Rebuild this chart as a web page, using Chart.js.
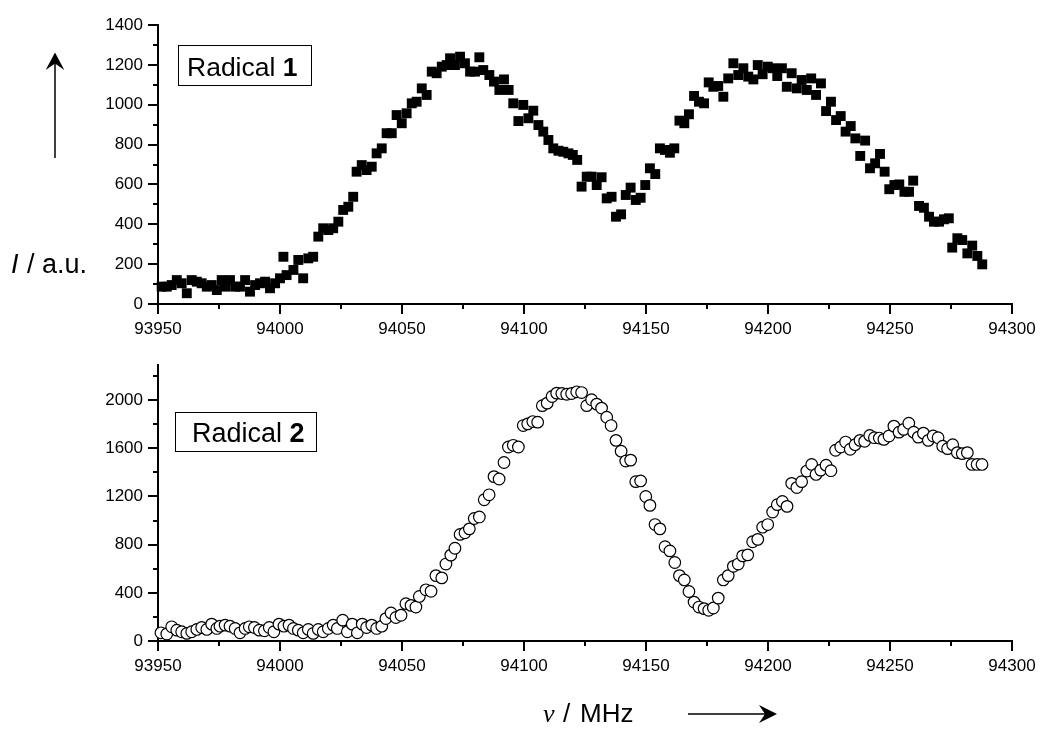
<!DOCTYPE html>
<html><head><meta charset="utf-8">
<script src="https://cdn.jsdelivr.net/npm/chart.js@4.4.0/dist/chart.umd.min.js"></script>
<style>
html,body{margin:0;padding:0;background:#fff;}
#wrap{position:relative;width:1049px;height:730px;overflow:hidden;}
canvas{position:absolute;left:0;}
#c1{top:0;}
#c2{top:350px;}
#ov{position:absolute;left:0;top:0;pointer-events:none;}
</style>
</head><body>
<div id="wrap">
<canvas id="c1" width="1049" height="350"></canvas>
<canvas id="c2" width="1049" height="380"></canvas>
<svg id="ov" width="1049" height="730" xmlns="http://www.w3.org/2000/svg" font-family="Liberation Sans, Arial, sans-serif">
  <rect x="178.5" y="45.5" width="133" height="40" fill="#fff" stroke="#000" stroke-width="1"/>
  <text x="187" y="76" font-size="26.5" fill="#000">Radical <tspan font-weight="bold">1</tspan></text>
  <rect x="175.5" y="412.5" width="141" height="39" fill="#fff" stroke="#000" stroke-width="1"/>
  <text x="192" y="442" font-size="27" fill="#000">Radical <tspan font-weight="bold">2</tspan></text>
  <text y="273" font-size="27" fill="#000"><tspan x="11" font-style="italic">I</tspan><tspan x="27">/</tspan><tspan x="42">a.u.</tspan></text>
  <line x1="55" y1="158" x2="55" y2="62" stroke="#000" stroke-width="1.5"/>
  <polygon points="55,52.5 45.7,70 55,63.5 64.3,70" fill="#000"/>
  <text y="722" font-size="26" fill="#000"><tspan x="543" font-family="Liberation Serif, Times New Roman, serif" font-style="italic">ν</tspan><tspan x="563">/</tspan><tspan x="580">MHz</tspan></text>
  <line x1="688" y1="714" x2="768" y2="714" stroke="#000" stroke-width="1.5"/>
  <polygon points="777,714 759,705 765,714 759,723" fill="#000"/>
</svg>
</div>
<script>
// ---- data ----
const freq1 = [
93951.5,93953.6,93955.6,93957.7,93959.7,93961.8,93963.8,93965.9,93967.9,93970.0,
93972.0,93974.1,93976.1,93977.5,93979.5,93981.6,93983.6,93985.7,93987.7,93989.8,
93991.8,93993.9,93995.9,93998.0,94000.0,94001.4,94002.7,94005.5,94007.5,94009.5,
94011.6,94013.6,94015.7,94017.7,94019.8,94021.8,94023.9,94025.9,94028.0,94030.0,
94031.4,94033.5,94035.5,94037.6,94039.6,94041.7,94043.7,94045.8,94047.8,94049.9,
94051.9,94054.0,94056.0,94058.1,94060.1,94062.2,94064.2,94066.3,94068.3,94069.7,
94071.7,94073.8,94075.8,94077.9,94079.9,94081.7,94083.3,94085.8,94087.7,94089.9,
94091.8,94093.7,94095.6,94097.7,94099.7,94101.8,94103.8,94105.9,94107.9,94110.0,
94112.0,94114.1,94116.1,94118.2,94120.0,94121.8,94123.6,94125.7,94127.7,94129.8,
94131.8,94133.9,94135.9,94137.7,94139.8,94141.7,94143.7,94145.8,94147.8,94149.7,
94151.6,94153.8,94155.7,94157.8,94159.8,94161.6,94163.7,94165.7,94167.6,94169.7,
94171.7,94173.8,94175.7,94177.6,94179.6,94181.7,94183.7,94185.8,94187.8,94189.9,
94191.9,94194.0,94195.8,94197.8,94199.9,94201.9,94203.8,94205.7,94207.7,94209.7,
94211.8,94213.8,94215.9,94217.7,94219.7,94221.7,94223.8,94225.8,94227.9,94229.8,
94231.8,94233.9,94235.8,94237.8,94239.8,94241.8,94243.9,94245.9,94247.8,94249.7,
94251.8,94253.8,94255.9,94257.8,94259.5,94261.9,94263.9,94266.0,94268.0,94270.1,
94272.1,94274.1,94275.5,94277.6,94279.6,94281.7,94283.7,94285.8,94287.8];
const int1 = [
87,87,95,120,104,54,120,112,104,87,
95,70,120,87,120,87,87,120,62,95,
104,112,79,104,129,237,145,171,221,129,
229,237,338,380,371,380,413,472,488,538,
664,697,672,689,756,781,857,857,948,907,
957,1007,1015,1082,1049,1166,1158,1191,1199,1233,
1199,1241,1208,1166,1166,1238,1174,1149,1116,1074,
1127,1074,1007,918,999,932,970,898,865,823,
781,769,764,756,748,723,589,639,639,597,
636,530,538,438,450,547,584,522,533,597,
681,652,781,773,759,781,920,907,952,1044,
1015,1007,1112,1090,1094,1040,1132,1208,1149,1183,
1141,1127,1199,1153,1191,1183,1144,1183,1090,1158,
1082,1124,1074,1132,1049,1107,968,1015,923,943,
865,893,831,743,820,681,706,753,664,576,
597,600,563,563,619,492,483,438,413,413,
425,430,283,330,321,254,293,241,199];
const freq2 = [
93951.2,93953.6,93955.6,93957.7,93959.7,93961.8,93963.8,93965.9,93967.9,93970.0,
93972.0,93974.1,93975.4,93977.5,93979.5,93981.6,93983.6,93985.7,93987.4,93989.5,
93991.5,93993.6,93995.6,93997.5,93999.6,94001.6,94003.7,94005.5,94007.5,94009.5,
94011.6,94013.6,94015.7,94017.7,94019.8,94021.8,94023.5,94025.7,94027.6,94029.6,
94031.7,94033.7,94035.5,94037.6,94039.6,94041.7,94043.4,94045.5,94047.5,94049.6,
94051.6,94053.7,94055.7,94057.1,94059.8,94061.9,94063.9,94066.3,94068.0,94070.0,
94071.7,94073.8,94075.8,94077.6,94079.6,94081.7,94083.7,94085.7,94087.7,94089.8,
94091.8,94093.6,94095.6,94097.7,94099.7,94101.5,94103.6,94105.6,94107.5,94109.5,
94111.5,94113.4,94115.5,94117.5,94119.5,94121.6,94123.6,94125.7,94127.7,94129.8,
94131.8,94133.9,94135.7,94137.7,94139.8,94141.7,94143.7,94145.8,94147.8,94149.9,
94151.6,94153.7,94155.7,94157.8,94159.8,94161.8,94163.7,94165.7,94167.6,94169.7,
94171.7,94173.8,94175.7,94177.6,94179.6,94181.7,94183.7,94185.8,94187.8,94189.6,
94191.7,94193.7,94195.8,94197.8,94199.9,94201.9,94203.8,94205.9,94207.8,94209.7,
94211.8,94213.8,94215.9,94217.9,94219.7,94221.6,94223.8,94225.8,94227.7,94229.8,
94231.8,94233.7,94235.7,94237.7,94239.6,94241.7,94243.6,94245.6,94247.5,94249.6,
94251.6,94253.7,94255.6,94257.7,94259.7,94261.6,94263.7,94265.7,94267.7,94269.7,
94271.6,94273.6,94275.7,94277.6,94279.6,94281.7,94283.6,94285.7,94287.7];
const int2 = [
68,58,118,90,77,63,77,96,112,96,
140,104,123,132,123,104,68,104,118,112,
90,85,112,77,140,123,132,104,90,68,
96,63,96,77,104,132,104,173,77,140,
68,140,112,132,104,123,186,233,195,214,
310,296,282,370,425,413,543,524,639,713,
770,885,898,931,1017,1030,1173,1214,1365,1345,
1482,1611,1625,1611,1789,1803,1822,1817,1954,1975,
2030,2058,2055,2049,2055,2069,2063,1954,2003,1967,
1934,1858,1789,1666,1576,1494,1502,1323,1329,1200,
1126,967,931,783,748,652,543,507,411,323,
282,269,255,274,356,507,543,620,639,707,
715,824,844,945,967,1071,1132,1159,1118,1309,
1274,1323,1411,1466,1383,1419,1460,1414,1584,1611,
1652,1592,1630,1666,1658,1707,1688,1685,1674,1702,
1784,1734,1757,1808,1734,1693,1726,1666,1702,1688,
1617,1597,1630,1564,1556,1564,1466,1466,1466];
const xTickLabels = [93950,94000,94050,94100,94150,94200,94250,94300];
const yTickLabels1 = [0,200,400,600,800,1000,1200,1400];
const yTickLabels2 = [0,400,800,1200,1600,2000];

// ---- helpers ----
const tickFont = {family:'Liberation Sans, Arial, sans-serif', size:17};
const minorTicks = {
  id:'minorTicks',
  afterDraw(chart){
    const ctx = chart.ctx, xs = chart.scales.x, ys = chart.scales.y;
    ctx.save(); ctx.strokeStyle = '#000'; ctx.lineWidth = 2;
    const xv = xs.ticks.map(t=>t.value);
    for (let i=0;i<xv.length-1;i++){
      const p = Math.round(xs.getPixelForValue((xv[i]+xv[i+1])/2));
      ctx.beginPath(); ctx.moveTo(p, xs.top); ctx.lineTo(p, xs.top+5); ctx.stroke();
    }
    const yv = ys.ticks.map(t=>t.value);
    const step = yv[1]-yv[0];
    const mids = [];
    for (let i=0;i<yv.length-1;i++) mids.push((yv[i]+yv[i+1])/2);
    const last = yv[yv.length-1] + step/2;
    if (last <= ys.max) mids.push(last);
    mids.forEach(v=>{
      const p = Math.round(ys.getPixelForValue(v));
      ctx.beginPath(); ctx.moveTo(ys.right, p); ctx.lineTo(ys.right-5, p); ctx.stroke();
    });
    ctx.restore();
  }
};
function axis(tickVals, min, max, isX, fitSize){
  return {
    type:'linear', min, max,
    afterBuildTicks: s => { s.ticks = tickVals.map(v=>({value:v})); },
    afterFit: s => { if (isX) s.height = fitSize; else s.width = fitSize; },
    ticks:{font:tickFont, color:'#000', padding:5, maxRotation:0, autoSkip:false, includeBounds:false,
           callback: v => String(v)},
    grid:{drawOnChartArea:false, drawTicks:true, tickLength:10, lineWidth:2, color:'#000'},
    border:{display:true, color:'#000', width:2}
  };
}
function makeChart(id, fx, fy, style, yTicks, ymax, padTop, xHeight){
  const pts = fx.map((f,i)=>({x:f, y:fy[i]}));
  return new Chart(document.getElementById(id), {
    type:'scatter',
    data:{datasets:[Object.assign({data:pts, showLine:false, clip:false}, style)]},
    options:{
      responsive:false, animation:false, devicePixelRatio:1,
      layout:{padding:{top:padTop, right:37, bottom:0, left:0}},
      plugins:{legend:{display:false}, tooltip:{enabled:false}},
      scales:{
        x: axis(xTickLabels, 93950, 94300, true, xHeight),
        y: axis(yTicks, 0, ymax, false, 158)
      }
    },
    plugins:[minorTicks]
  });
}
makeChart('c1', freq1, int1,
  {pointStyle:'rect', pointRadius:7, pointBackgroundColor:'#000', pointBorderColor:'#000', pointBorderWidth:0},
  yTickLabels1, 1400, 25, 46);
makeChart('c2', freq2, int2,
  {pointStyle:'circle', pointRadius:5.8, pointBackgroundColor:'#fff', pointBorderColor:'#000', pointBorderWidth:1.2},
  yTickLabels2, 2290, 12, 89);
</script>
</body></html>
